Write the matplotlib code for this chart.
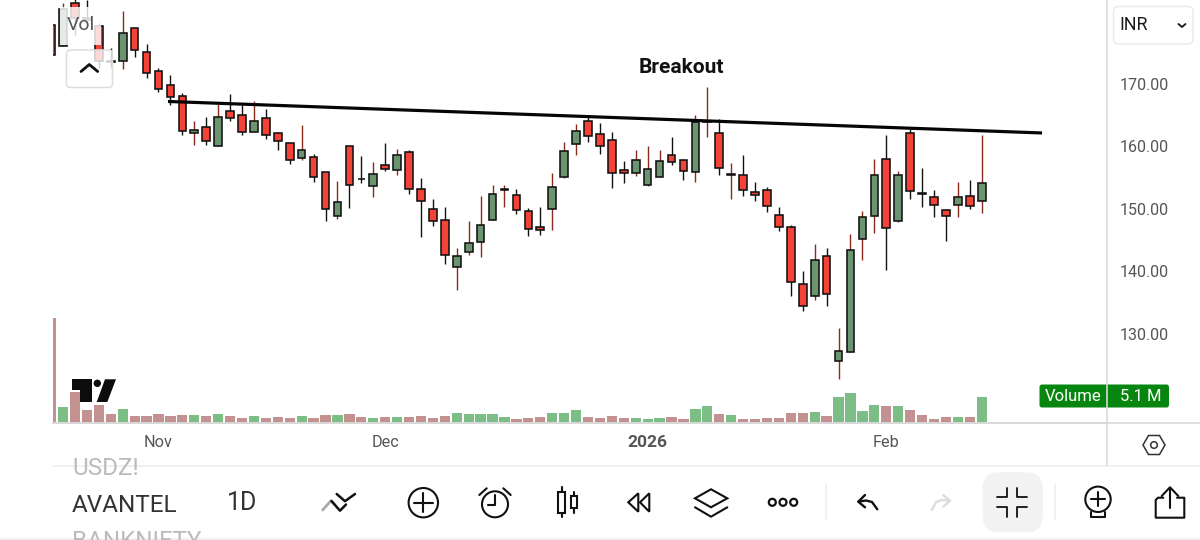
import numpy as np
import matplotlib
matplotlib.use('Agg')
import matplotlib.pyplot as plt
from matplotlib.patches import Circle, Rectangle, FancyBboxPatch, Polygon

plt.rcParams['font.family'] = ['Roboto', 'DejaVu Sans']

# candles, first six are cut by the left edge / legend
opens = [179.46, 176.09, 182.98, 180.58, 179.29, 173.70,
         173.63, 179.03, 175.07, 172.14, 169.89, 168.08, 162.09, 163.05, 160.12, 165.67,
         164.98, 162.36, 164.55, 162.09, 160.54, 158.09, 158.30, 155.95, 148.84, 160.01,
         154.83, 153.71, 157.02, 156.22, 159.05, 153.17, 149.97, 148.20, 140.67, 143.13,
         144.68, 148.15, 153.01, 152.21, 149.59, 147.14, 149.97, 155.15, 160.44, 164.02,
         162.04, 161.08, 156.22, 155.68, 153.87, 155.15, 158.67, 157.82, 155.95, 163.96,
         162.15, 155.47, 155.47, 152.64, 153.01, 149.01, 147.03, 138.00, 136.02, 142.43,
         125.55, 127.00, 145.11, 148.90, 157.93, 148.04, 162.09, 152.48, 151.89, 149.86,
         150.66, 152.00, 151.30]
closes = [174.65, 182.02, 180.58, 180.26, 173.69, 173.60,
          178.12, 175.39, 171.71, 169.14, 167.97, 162.41, 162.68, 160.86, 164.66, 164.55,
          162.36, 164.07, 161.77, 160.81, 157.77, 159.37, 155.04, 150.02, 151.14, 153.87,
          154.72, 155.57, 156.43, 158.67, 153.12, 151.25, 148.04, 142.54, 142.49, 144.52,
          147.40, 152.42, 153.12, 149.86, 146.82, 146.55, 153.55, 159.21, 162.52, 161.72,
          160.12, 155.79, 155.68, 157.77, 156.43, 157.66, 157.55, 156.00, 163.86, 164.12,
          156.54, 155.58, 153.01, 152.26, 150.45, 147.14, 138.21, 134.42, 141.79, 136.29,
          127.16, 143.45, 148.74, 155.42, 146.92, 155.42, 152.85, 152.37, 150.55, 148.79,
          151.89, 150.45, 154.13]
highs = [179.46, 183.00, 184.00, 183.50, 179.80, 175.77,
         181.70, 179.03, 176.41, 172.62, 171.44, 168.50, 164.12, 164.66, 167.01, 168.34,
         166.58, 167.22, 165.94, 162.36, 160.54, 163.37, 158.78, 155.95, 154.40, 160.01,
         158.46, 157.55, 160.60, 159.58, 159.48, 154.88, 151.52, 150.23, 143.77, 147.99,
         152.05, 153.76, 153.76, 153.17, 150.07, 150.23, 155.79, 160.65, 163.54, 164.66,
         163.75, 162.31, 157.61, 159.37, 160.01, 159.37, 161.56, 157.82, 164.98, 169.46,
         164.34, 157.39, 158.67, 154.29, 153.44, 150.23, 147.35, 140.08, 144.36, 143.77,
         130.90, 145.96, 149.59, 158.03, 161.83, 156.00, 162.73, 156.59, 153.07, 150.02,
         154.24, 154.56, 161.83]
lows = [174.65, 176.09, 177.85, 180.26, 172.50, 172.56,
        172.40, 174.27, 171.01, 168.77, 166.69, 161.77, 160.28, 160.17, 160.12, 164.02,
        161.88, 162.36, 161.18, 159.48, 157.13, 157.87, 154.24, 148.10, 148.31, 150.07,
        154.13, 151.84, 156.06, 155.42, 152.32, 145.43, 147.30, 141.10, 137.04, 142.65,
        142.33, 148.15, 150.34, 149.11, 145.69, 145.75, 146.65, 154.99, 158.57, 160.65,
        158.83, 153.39, 154.08, 155.31, 153.60, 155.15, 156.96, 154.56, 154.35, 161.56,
        155.36, 151.62, 152.10, 151.20, 149.43, 146.39, 136.08, 133.57, 135.38, 134.48,
        122.67, 127.00, 141.74, 146.12, 140.24, 147.88, 151.62, 150.34, 148.63, 144.89,
        148.74, 149.91, 149.27]
# volume in millions
volumes = [20.67, 3.07, 6.08, 2.49, 3.47, 1.83,
           2.75, 1.31, 1.31, 1.70, 1.31, 1.57, 1.57, 1.31, 1.70, 1.31,
           1.05, 1.31, 0.92, 1.11, 1.05, 1.37, 1.05, 1.57, 1.50, 1.77,
           1.24, 0.92, 1.24, 1.24, 1.18, 1.31, 0.98, 1.37, 1.90, 1.70,
           1.83, 1.83, 1.11, 0.78, 0.98, 1.24, 1.96, 1.90, 2.55, 1.18,
           1.05, 1.44, 0.98, 0.92, 0.85, 0.92, 1.18, 0.85, 2.81, 3.40,
           1.70, 1.57, 0.72, 0.72, 0.98, 0.98, 2.03, 2.03, 2.16, 1.31,
           5.10, 5.82, 2.42, 3.47, 3.40, 3.40, 2.49, 1.50, 0.85, 1.11,
           1.24, 1.24, 5.10]
first_index = -6

trend_x = [3.8, 77.06]
trend_y = [167.2, 162.15]

price_ticks = [130, 140, 150, 160, 170]
month_ticks = [3, 22, 44, 64]
month_labels = ['Nov', 'Dec', '2026', 'Feb']

W, H = 1200, 540
BODY_RED = '#F44336'
BODY_GREEN = '#6B9470'
WICK_RED = '#8A2B1E'
VOL_RED = '#C49191'
VOL_GREEN = '#7DBE87'
GRID = '#D9D9D9'
TEXT = '#555555'


def px_axes(fig, left, top, right, bottom, **kw):
    return fig.add_axes([left / W, 1 - bottom / H, (right - left) / W, (bottom - top) / H], **kw)


fig = plt.figure(figsize=(W / 100, H / 100), dpi=100, facecolor='white')

o = np.array(opens)
c = np.array(closes)
hi = np.array(highs)
lo = np.array(lows)
vol = np.array(volumes)
x = np.arange(first_index, first_index + len(o))
up = c > o

''' Volume '''
ax_v = px_axes(fig, 53, 0, 1107, 423)
ax_v.bar(x, vol, width=0.86, color=[VOL_GREEN if u else VOL_RED for u in up], linewidth=0)
ax_v.set_xlim(-5.842, 82.5)
ax_v.set_ylim(0, 83)
ax_v.axis('off')

''' Candles '''
ax = px_axes(fig, 53, 0, 1107, 423)
ax.patch.set_alpha(0)
ax.vlines(x, lo, hi, colors=[WICK_RED if u else '#111111' for u in up], linewidth=1.0, zorder=2)
ax.bar(x, np.abs(c - o), bottom=np.minimum(o, c), width=0.64,
       color=[BODY_GREEN if u else BODY_RED for u in up],
       edgecolor='#111111', linewidth=1.15, zorder=3)
ax.plot(trend_x, trend_y, color='#050505', linewidth=2.3, solid_capstyle='butt', zorder=4)
ax.text(46.84, 172.6, 'Breakout', fontsize=15, fontweight='bold', color='#111111',
        ha='center', va='center', zorder=5)

ax.set_xlim(-5.842, 82.5)
ax.set_ylim(115.67, 183.46)
ax.yaxis.tick_right()
ax.set_yticks(price_ticks)
ax.set_yticklabels(['%.2f' % p for p in price_ticks], fontsize=11.5, color=TEXT)
ax.set_xticks(month_ticks)
ax.set_xticklabels(month_labels, fontsize=11.7, color=TEXT)
ax.get_xticklabels()[2].set_fontweight('bold')
ax.get_xticklabels()[2].set_fontsize(12.5)
ax.tick_params(axis='both', length=0)
ax.tick_params(axis='x', pad=8.5)
ax.tick_params(axis='y', pad=9)
for side in ['top', 'left', 'right']:
    ax.spines[side].set_visible(False)
ax.spines['bottom'].set_color(GRID)
ax.spines['bottom'].set_linewidth(1.3)

''' Everything else is the app around the chart, drawn in pixels '''
ui = fig.add_axes([0, 0, 1, 1])
ui.set_xlim(0, W)
ui.set_ylim(H, 0)
ui.axis('off')
ui.patch.set_alpha(0)


def line(xs, ys, color='#111111', lw=1.5, **kw):
    ui.plot(xs, ys, color=color, linewidth=lw, solid_capstyle='round', solid_joinstyle='round', **kw)


def ring(cx, cy, r, color='#111111', lw=1.5):
    ui.add_patch(Circle((cx, cy), r, fill=False, edgecolor=color, linewidth=lw))


def rbox(x0, y0, x1, y1, r, fc='none', ec='#111111', lw=1.5, alpha=None):
    ui.add_patch(FancyBboxPatch((x0 + r, y0 + r), x1 - x0 - 2 * r, y1 - y0 - 2 * r,
                                boxstyle='round,pad=%f,rounding_size=%f' % (r, r),
                                facecolor=fc, edgecolor=ec, linewidth=lw, alpha=alpha))


# legend veil and collapse button over the first candles
ui.add_patch(Rectangle((60, 7), 41, 38, facecolor='white', edgecolor='none', alpha=0.82))
ui.text(67, 25, 'Vol', fontsize=14, color='#555555', va='center', ha='left')
rbox(66.5, 50, 112.5, 87.5, 4, fc=(1, 1, 1, 0.8), ec='#DDDDDD', lw=1.1)
line([81, 89.3, 97.7], [71.5, 64.5, 71.5], lw=2.0)

# tradingview logo
ui.add_patch(Polygon([(71.7, 379.3), (91.7, 379.3), (91.7, 402), (80, 402), (80, 390), (71.7, 390)],
                     facecolor='#0C0C0C', edgecolor='none'))
ui.add_patch(Circle((97.3, 383.3), 3.7, facecolor='#0C0C0C', edgecolor='none'))
ui.add_patch(Polygon([(105, 379.3), (116, 379.3), (107.3, 402), (96.7, 402)],
                     facecolor='#0C0C0C', edgecolor='none'))

# volume pill
rbox(1039.5, 384.5, 1169, 407.5, 2.5, fc='#07860F', ec='none', lw=0)
ui.text(1073.5, 396.5, 'Volume', fontsize=12, color='white', ha='center', va='center')
ui.text(1140.5, 396.5, '5.1 M', fontsize=12, color='white', ha='center', va='center')

# frame lines
ui.plot([1107, 1107], [0, 465], color=GRID, linewidth=1.2)
ui.plot([53, 1200], [423, 423], color=GRID, linewidth=1.2)
ui.plot([53, 1200], [465.5, 465.5], color='#EEEEEE', linewidth=1.2)
ui.plot([0, 1200], [539, 539], color='#EEEEEE', linewidth=1.2)

# currency dropdown
rbox(1113.5, 6.5, 1193, 44, 5, fc='white', ec='#EBEBEB', lw=1.1)
ui.text(1119, 25.5, 'INR', fontsize=12.8, color='#1A1A1A', va='center')
line([1178.5, 1182, 1185.5], [24, 27, 24], lw=1.3)

# settings hexagon
ui.add_patch(Polygon([(1143, 445), (1148.5, 435.5), (1159.5, 435.5), (1165, 445), (1159.5, 454.5), (1148.5, 454.5)],
                     fill=False, edgecolor='#333333', linewidth=1.1))
ring(1154, 445, 3.3, color='#333333', lw=1.1)

# symbol wheel, the neighbours are cut by the wheel edges
t1 = ui.text(72, 468.5, 'USDZ!', fontsize=17.5, color='#BBBBBB', va='center', ha='left')
t1.set_clip_path(Rectangle((60, 466), 200, 30, transform=ui.transData))
ui.text(72, 505, 'AVANTEL', fontsize=17.5, color='#333333', va='center', ha='left')
t2 = ui.text(72, 541.5, 'BANKNIFTY', fontsize=17.5, color='#BBBBBB', va='center', ha='left')
t2.set_clip_path(Rectangle((60, 528), 200, 11, transform=ui.transData))
ui.text(242.5, 502.5, '1D', fontsize=18, color='#333333', va='center', ha='center')

# toolbar, coordinates
line([322.7, 331, 335], [510, 500.7, 505], color='#AAAAAA', lw=2)
line([331.5, 340, 346], [501, 510.7, 504.5], lw=1.8)
line([336.7, 345, 355], [494, 501.2, 494], lw=1.8)

ring(423.3, 502.7, 14.7)
line([414, 432.7], [502.7, 502.7])
line([423.3, 423.3], [493.3, 512])

ring(495, 504.3, 13)
line([495, 495, 488.3], [495, 505, 505])
line([479.3, 486.7], [495, 488.3])
line([510.7, 503.3], [495, 488.3])

ui.add_patch(Rectangle((558.3, 491.7), 6.7, 21.7, fill=False, edgecolor='#111111', linewidth=1.5))
line([561.7, 561.7], [487.3, 491.7])
line([561.7, 561.7], [513.4, 517.3])
ui.add_patch(Rectangle((570.7, 496), 6.7, 12.3, fill=False, edgecolor='#111111', linewidth=1.5))
line([574, 574], [491.7, 496])
line([574, 574], [508.3, 512.7])

ui.add_patch(Polygon([(628.3, 502.3), (638.3, 493.3), (638.3, 511.7)], fill=False, edgecolor='#111111', linewidth=1.5))
ui.add_patch(Polygon([(640, 502.3), (649.3, 493.3), (649.3, 511.7)], fill=False, edgecolor='#111111', linewidth=1.5))

ui.add_patch(Polygon([(695, 498.3), (711, 489.3), (727.3, 498.3), (711, 507.3)], fill=False, edgecolor='#111111', linewidth=1.5))
line([695, 711, 727.3], [507.3, 516.7, 507.3])

ring(772.3, 502.3, 3.5, lw=1.6)
ring(783, 502.3, 3.5, lw=1.6)
ring(793.7, 502.3, 3.5, lw=1.6)

ui.plot([825.7, 825.7], [483.5, 520], color='#EEEEEE', linewidth=1.1)

line([865, 858.3, 865], [495, 501.7, 507.3], lw=1.7)
line([858.3, 866, 872, 877.3], [501.7, 500.5, 502, 509.3], lw=1.7)

line([943.3, 950, 943.3], [495, 500.7, 506.7], color='#DDDDDD', lw=1.7)
line([950, 942, 936, 931.7], [500.7, 500, 502, 510], color='#DDDDDD', lw=1.7)

rbox(982.7, 472.3, 1042.7, 532.3, 16, fc='#F2F2F2', ec='none', lw=0)
line([997.3, 1007.3, 1007.3], [496.7, 496.7, 488.3], lw=1.3)
line([1017.3, 1017.3, 1027.3], [488.3, 496.7, 496.7], lw=1.3)
line([997.3, 1007.3, 1007.3], [507.3, 507.3, 517.3], lw=1.3)
line([1027.3, 1017.3, 1017.3], [507.3, 507.3, 517.3], lw=1.3)

ui.plot([1055, 1055], [484, 520], color='#EEEEEE', linewidth=1.1)

ring(1098, 499.3, 12.7)
line([1091, 1105], [499.3, 499.3])
line([1098, 1098], [492.3, 506.3])
line([1091, 1091, 1105, 1105], [512, 517.3, 517.3, 512])

line([1163.3, 1158, 1155.7, 1155.7, 1184.3, 1184.3, 1177],
     [497.7, 497.7, 500, 517.7, 517.7, 497.7, 497.7])
line([1170, 1170], [488.3, 508.3])
line([1161.7, 1170, 1178.3], [496, 487.3, 496])

fig.savefig('out.png', dpi=100)
